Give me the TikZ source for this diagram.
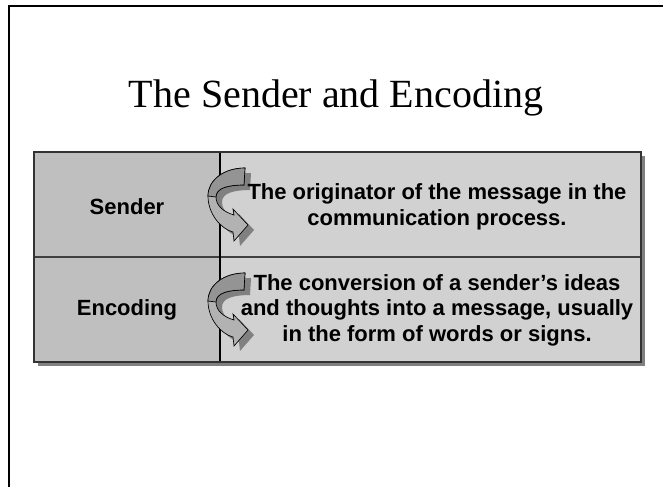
\documentclass[tikz,border=0pt]{standalone}
\usepackage{fontspec}
\setmainfont{Liberation Sans}
\newfontfamily\titlefont{Liberation Serif}
\usetikzlibrary{calc}

\begin{document}
\begin{tikzpicture}[x=0.75pt,y=-0.75pt,
	cellL/.style={fill=black!25},
	cellR/.style={fill=black!18},
	label/.style={font=\fontsize{16.5}{19.2}\selectfont\bfseries, align=center, inner sep=0pt},
	curlshadow/.style={fill=black!50},
	curlbody/.style={fill=black!30, draw=black, line width=0.5pt},
	curltop/.style={fill=black!42, draw=black, line width=0.5pt}]
		\useasboundingbox (0,0) rectangle (663,487);
		% slide frame
		\coordinate (F)  at (9,6);
		\draw[line width=1.5pt] (663,6) -- (F) -- (9,487);
		% title
		\node[font=\titlefont\fontsize{30}{34}\selectfont, anchor=base] (title) at (336,107) {The Sender and Encoding};
		% table corners
		\coordinate (NW) at (34,152);
		\coordinate (SE) at (641,362);
		\coordinate (MT) at (220,152);
		\coordinate (MB) at (220,362);
		\coordinate (RL) at (34,257);
		\coordinate (RR) at (641,257);
		\fill[black!50] ($(NW)+(4,4)$) rectangle ($(SE)+(4,4)$);
		\fill[cellL] (NW) rectangle (MB);
		\fill[cellR] (MT) rectangle (SE);
		\draw[line width=1.5pt, black!75] (RL) -- (RR);
		\draw[line width=0.8pt] (MT) -- (MB);
		\draw[line width=0.8pt, black!80] (NW) rectangle (SE);
		% curled arrows
		\foreach \t in {152,257}{
			\begin{scope}[shift={(220,\t)}]
				\fill[curlshadow, shift={(6,5)}] (25,16) .. controls (4,16) and (-12,28) .. (-12,44)
					.. controls (-12,62) and (1,77) .. (13,80) -- (14,89) -- (28,73) -- (13,57) -- (14,63)
					.. controls (4,60) and (-4,54) .. (-4,45) .. controls (-4,36) and (8,33) .. (24,33) -- cycle;
				\filldraw[curlbody] (25,16) .. controls (4,16) and (-12,28) .. (-12,44)
					.. controls (-12,62) and (1,77) .. (13,80) -- (14,89) -- (28,73) -- (13,57) -- (14,63)
					.. controls (4,60) and (-4,54) .. (-4,45) .. controls (-4,36) and (8,33) .. (24,33) -- cycle;
				\filldraw[curltop] (25,16) .. controls (4,16) and (-12,28) .. (-12,44) -- (-4,45)
					.. controls (-4,36) and (8,33) .. (24,33) -- cycle;
			\end{scope}
		}
		% texts
		\node[label] (sender) at (127,207) {Sender};
		\node[label] (senderdef) at (437,207) {The originator of the message in the\\communication process.};
		\node[label] (encoding) at (127,310) {Encoding};
		\node[label] (encodingdef) at (437,310) {The conversion of a sender’s ideas\\and thoughts into a message, usually\\in the form of words or signs.};
\end{tikzpicture}
\end{document}
